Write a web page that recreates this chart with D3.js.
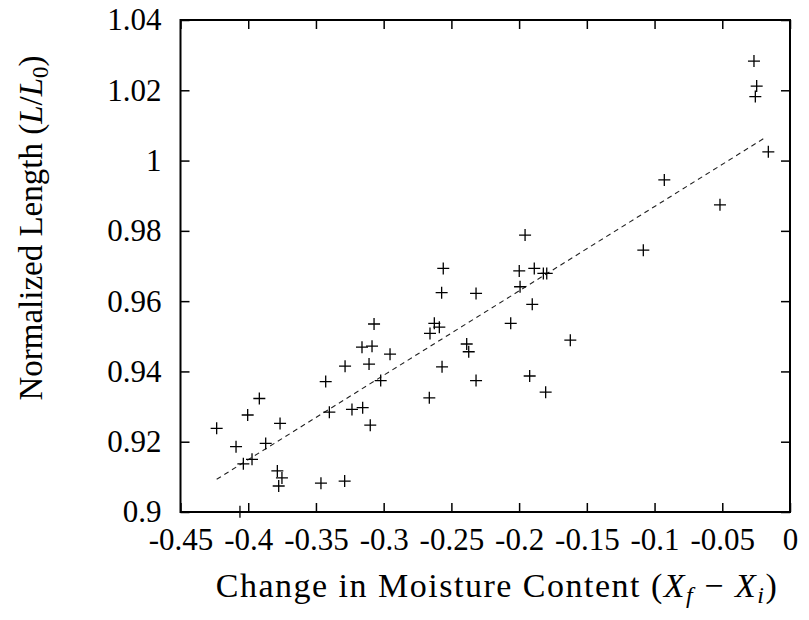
<!DOCTYPE html>
<html>
<head>
<meta charset="utf-8">
<script src="https://cdn.jsdelivr.net/npm/d3@7"></script>
<style>
  body { margin: 0; background: #fff; }
  svg text { font-family: "Liberation Serif", "DejaVu Serif", serif; fill: #000; }
</style>
</head>
<body>
<div id="chart"></div>
<script>
// change in moisture content (X_f - X_i)
const moisture = [
  -0.4233, -0.3918, -0.4004, -0.4090, -0.3871, -0.3765, -0.4036, -0.3972, -0.3785, -0.3751,
  -0.3775, -0.3463, -0.3288, -0.3428, -0.3401, -0.3234, -0.3155, -0.3099, -0.3022, -0.4061,
  -0.2953, -0.2560, -0.2572, -0.2318, -0.2626, -0.2589, -0.2658, -0.2387, -0.2372, -0.2569,
  -0.2318, -0.2663, -0.2062, -0.1999, -0.1888, -0.1821, -0.1796, -0.1993, -0.1903, -0.1622,
  -0.1922, -0.1804, -0.1956, -0.1083, -0.0928, -0.0517, -0.0266, -0.0246, -0.0256, -0.0160,
  -0.3285, -0.3160, -0.3086, -0.3071, -0.3108
];
// normalized length L/L0
const normLength = [
  0.9238, 0.9323, 0.9276, 0.9186, 0.9195, 0.9252, 0.9137, 0.9150, 0.9117, 0.9097,
  0.9074, 0.9082, 0.9088, 0.9371, 0.9284, 0.9292, 0.9297, 0.9247, 0.9374, 0.9001,
  0.9449, 0.9693, 0.9624, 0.9622, 0.9537, 0.9526, 0.9508, 0.9478, 0.9456, 0.9413,
  0.9374, 0.9325, 0.9537, 0.9686, 0.9693, 0.9679, 0.9679, 0.9641, 0.9591, 0.9489,
  0.9387, 0.9341, 0.9788, 0.9745, 0.9945, 0.9874, 1.0283, 1.0212, 1.0182, 1.0025,
  0.9415, 0.9469, 0.9472, 0.9535, 0.9421
];
// linear fit end points
const fitX = [-0.4233, -0.0172];
const fitY = [0.9093, 1.0068];

const xTicks = [-0.45, -0.4, -0.35, -0.3, -0.25, -0.2, -0.15, -0.1, -0.05, 0];
const yTicks = [0.9, 0.92, 0.94, 0.96, 0.98, 1, 1.02, 1.04];

const W = 809, H = 620;
const margin = { left: 180.5, right: 19, top: 20, bottom: 108 };

const svg = d3.select("#chart").append("svg")
    .attr("width", W)
    .attr("height", H);

const x = d3.scaleLinear().domain([-0.45, 0]).range([margin.left, W - margin.right]);
const y = d3.scaleLinear().domain([0.9, 1.04]).range([H - margin.bottom, margin.top]);

const fontSize = 31;
const tickLen = 9;

// ticks on all four sides, pointing inward
const fmt = d => String(d);
svg.append("g")
    .attr("transform", `translate(0,${y(0.9)})`)
    .call(d3.axisBottom(x).tickValues(xTicks).tickFormat(fmt).tickSizeInner(-tickLen).tickSizeOuter(0).tickPadding(16))
    .call(g => g.select(".domain").remove())
    .call(g => g.selectAll("text").style("font-size", fontSize + "px"));
svg.append("g")
    .attr("transform", `translate(0,${y(1.04)})`)
    .call(d3.axisTop(x).tickValues(xTicks).tickFormat("").tickSizeInner(-tickLen).tickSizeOuter(0))
    .call(g => g.select(".domain").remove());
svg.append("g")
    .attr("transform", `translate(${x(-0.45)},0)`)
    .call(d3.axisLeft(y).tickValues(yTicks).tickFormat(fmt).tickSizeInner(-tickLen).tickSizeOuter(0).tickPadding(19))
    .call(g => g.select(".domain").remove())
    .call(g => g.selectAll("text").style("font-size", fontSize + "px"));
svg.append("g")
    .attr("transform", `translate(${x(0)},0)`)
    .call(d3.axisRight(y).tickValues(yTicks).tickFormat("").tickSizeInner(-tickLen).tickSizeOuter(0))
    .call(g => g.select(".domain").remove());

svg.selectAll(".tick line").attr("stroke", "#000").attr("stroke-width", 1.5);

// frame
svg.append("rect")
    .attr("x", x(-0.45)).attr("y", y(1.04))
    .attr("width", x(0) - x(-0.45)).attr("height", y(0.9) - y(1.04))
    .attr("fill", "none").attr("stroke", "#000").attr("stroke-width", 2);

// fit line
svg.append("line")
    .attr("x1", x(fitX[0])).attr("y1", y(fitY[0]))
    .attr("x2", x(fitX[1])).attr("y2", y(fitY[1]))
    .attr("stroke", "#222").attr("stroke-width", 1.1)
    .attr("stroke-dasharray", "5,4");

// data points as plus markers
const pts = moisture.map((m, i) => ({ m, l: normLength[i] }));
svg.append("g").selectAll("path")
    .data(pts)
    .enter().append("path")
    .attr("d", d => {
        const px = x(d.m), py = y(d.l), s = 6;
        return `M${px - s},${py}H${px + s}M${px},${py - s}V${py + s}`;
    })
    .attr("stroke", "#000")
    .attr("stroke-width", 1.3)
    .attr("fill", "none");

// axis titles
const titleSize = 33;
const xt = svg.append("text")
    .attr("x", 497)
    .attr("y", 597)
    .attr("text-anchor", "middle")
    .style("font-size", "34px")
    .style("letter-spacing", "1.5px");
xt.append("tspan").text("Change in Moisture Content (");
xt.append("tspan").attr("font-style", "italic").text("X");
xt.append("tspan").attr("font-style", "italic").attr("font-size", "24px").attr("dy", 6).text("f");
xt.append("tspan").attr("dy", -6).text(" − ");
xt.append("tspan").attr("font-style", "italic").text("X");
xt.append("tspan").attr("font-style", "italic").attr("font-size", "24px").attr("dy", 6).text("i");
xt.append("tspan").attr("dy", -6).text(")");

const yt = svg.append("text")
    .attr("transform", `translate(42,228) rotate(-90)`)
    .attr("text-anchor", "middle")
    .style("font-size", titleSize + "px");
yt.append("tspan").text("Normalized Length (");
yt.append("tspan").attr("font-style", "italic").text("L");
yt.append("tspan").text("/");
yt.append("tspan").attr("font-style", "italic").text("L");
yt.append("tspan").attr("font-size", "23px").attr("dy", 6).text("0");
yt.append("tspan").attr("dy", -6).text(")");
</script>
</body>
</html>
